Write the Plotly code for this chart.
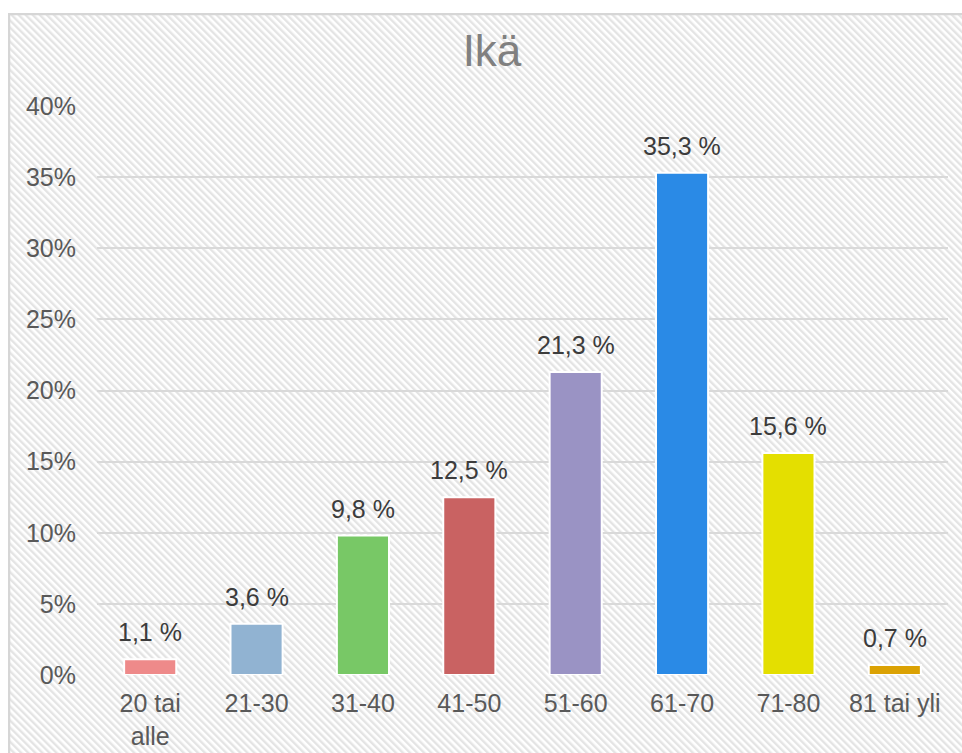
import base64
import plotly.graph_objects as go

categories = ["20 tai<br>alle", "21-30", "31-40", "41-50", "51-60", "61-70", "71-80", "81 tai yli"]
values = [1.1, 3.6, 9.8, 12.5, 21.3, 35.3, 15.6, 0.7]
bar_colors = ["#EE8A8A", "#91B3D2", "#78C866", "#C96262", "#9A93C4", "#2A8AE6", "#E4DF00", "#DBA204"]
y_ticks = [0, 5, 10, 15, 20, 25, 30, 35, 40]
y_tick_labels = [f"{v}%" for v in y_ticks]
title_text = "Ikä"

labels = [f"{v:.1f}".replace(".", ",") + " %" for v in values]

FONT = "Liberation Sans, Arial, Helvetica, sans-serif"
W, H = 962, 753
L, R, T, B = 97, 14, 106, 78
pw, ph = W - L - R, H - T - B

# hatched background with top/left border
bx, by = 8, 13
bw, bh = W - bx, H - by
svg = f'''<svg xmlns="http://www.w3.org/2000/svg" width="{bw}" height="{bh}" viewBox="0 0 {bw} {bh}" preserveAspectRatio="none">
<defs><pattern id="h" patternUnits="userSpaceOnUse" width="5" height="5" patternTransform="rotate(-45)">
<rect width="5" height="5" fill="#ffffff"/><rect width="2.4" height="5" fill="#e4e4e4"/></pattern></defs>
<rect width="{bw}" height="{bh}" fill="url(#h)"/>
<line x1="0" y1="1" x2="{bw}" y2="1" stroke="#d6d6d6" stroke-width="2.5"/>
<line x1="1" y1="0" x2="1" y2="{bh}" stroke="#d6d6d6" stroke-width="2.5"/>
</svg>'''
src = "data:image/svg+xml;base64," + base64.b64encode(svg.encode()).decode()

fig = go.Figure(
    go.Bar(
        x=categories,
        y=values,
        marker=dict(color=bar_colors, line=dict(color="#ffffff", width=2)),
        width=0.49,
        cliponaxis=False,
        hoverinfo="skip",
    )
)

for c, v, lab in zip(categories, values, labels):
    fig.add_annotation(
        x=c, y=v, text=lab, showarrow=False, yanchor="bottom", yshift=11,
        font=dict(family=FONT, size=25, color="#3c3c3c"),
    )

fig.add_layout_image(
    source=src,
    xref="paper", yref="paper",
    x=(bx - L) / pw, y=(H - B - by) / ph,
    sizex=bw / pw, sizey=bh / ph,
    xanchor="left", yanchor="top",
    sizing="stretch", layer="below",
)

fig.update_layout(
    width=W, height=H,
    margin=dict(l=L, r=R, t=T, b=B, autoexpand=False),
    paper_bgcolor="#ffffff",
    plot_bgcolor="rgba(0,0,0,0)",
    showlegend=False,
    title=dict(
        text=title_text, x=492 / W, xanchor="center", y=1 - 51 / H, yanchor="middle",
        xref="container", yref="container",
        font=dict(family=FONT, size=44, color="#808080"),
    ),
    font=dict(family=FONT, size=25, color="#595959"),
)
fig.update_yaxes(
    range=[0, 40], tickvals=y_ticks, ticktext=y_tick_labels,
    showgrid=True, gridcolor="#d9d9d9", gridwidth=1.5,
    zeroline=False, showline=False, ticks="", ticklabelstandoff=20,
    automargin=False,
    tickfont=dict(family=FONT, size=25, color="#595959"),
)
fig.update_xaxes(
    showgrid=False, showline=False, ticks="outside", ticklen=6, tickcolor="rgba(0,0,0,0)",
    automargin=False,
    tickfont=dict(family=FONT, size=25, color="#595959"),
)
fig.write_html(
    "out.html",
    config={"displayModeBar": False},
    post_script="document.body.style.margin='0';document.body.style.overflow='hidden';",
)
